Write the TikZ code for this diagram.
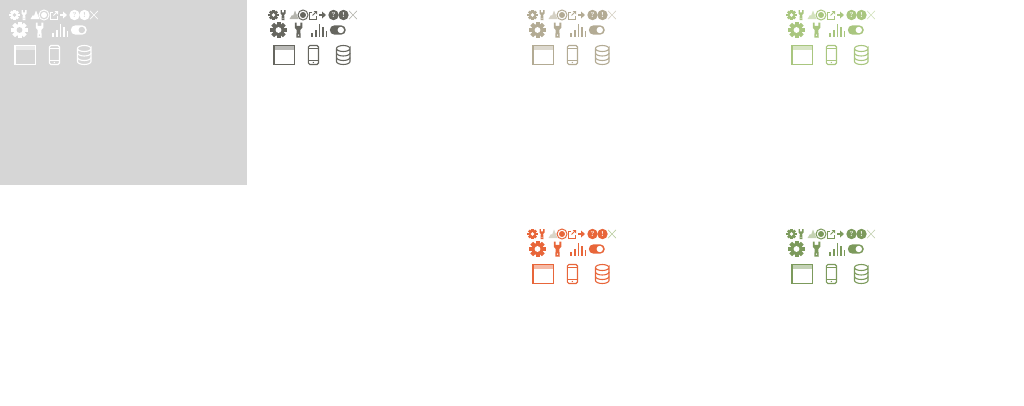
\documentclass[tikz,border=0pt]{standalone}
\usepackage{amsmath}
\usepackage{tikz}

\definecolor{panelgray}{HTML}{D6D6D6}
\definecolor{inkdark}{HTML}{66665F}
\definecolor{softdark}{HTML}{B5B5AE}
\definecolor{inktan}{HTML}{B3AB94}
\definecolor{softtan}{HTML}{D5D1C4}
\definecolor{inklime}{HTML}{A9C67F}
\definecolor{softlime}{HTML}{D3E2BD}
\definecolor{inkred}{HTML}{E8663A}
\definecolor{softred}{HTML}{D9D5C8}
\definecolor{crossred}{HTML}{B9CDA0}
\definecolor{inkolive}{HTML}{7C9A5C}
\definecolor{softolive}{HTML}{C4D2B2}

\tikzset{
    gear/.pic = {
        \foreach \a in {0,45,90,135}
            \fill[rotate=\a, ink] (-.25,-1.02) rectangle (.25,1.02);
        \fill[ink] (0,0) circle (.74);
        \fill[back] (0,0) circle (.36);
    },
    wrench/.pic = {
        \fill[ink] (-.5,-1) -- (-.24,-1) -- (-.24,-.55) -- (.24,-.55) -- (.24,-1) -- (.5,-1)
            -- (.5,-.3) -- (.24,0) -- (.3,1) -- (-.3,1) -- (-.24,0) -- (-.5,-.3) -- cycle;
        \fill[back] (0,.68) circle (.11);
    },
    outline/.style = {draw=ink, line width=1.1pt, fill=none},
}

\newcommand{\iconset}[5]{%
    \begin{scope}[shift={(#1,#2)}]
        \colorlet{ink}{#3}
        \colorlet{soft}{#4}
        \colorlet{cross}{#5}
        % first row
        \pic[scale=5] at (-.5,0) {gear};
        \pic[scale=5] at (9,0) {wrench};
        \fill[soft] (15.5,4) -- (18,0) -- (19,1) -- (21,-4.5) -- (24.5,4) -- cycle;
        \draw[ink, line width=1pt] (29,0) circle (5);
        \fill[ink] (29,0) circle (3);
        \draw[ink, line width=1pt] (38,-3) -- (35.5,-3) -- (35.5,4) -- (42.5,4) -- (42.5,1);
        \draw[ink, line width=1pt] (38.5,.5) -- (41.5,-2.5);
        \fill[ink] (39.5,-4) -- (43,-4) -- (43,-.5) -- cycle;
        \fill[ink] (45,-1) rectangle (49,1);
        \fill[ink] (48,-3.5) -- (52,0) -- (48,3.5) -- cycle;
        \fill[ink] (59.5,0) circle (5.2);
        \node[text=back, font=\bfseries\fontsize{7}{7}\selectfont, inner sep=0pt] (ask) at (59.5,0) {?};
        \fill[ink] (69.5,0) circle (5.2);
        \node[text=back, font=\bfseries\fontsize{7}{7}\selectfont, inner sep=0pt] (warn) at (69.5,0) {!};
        \draw[cross, line width=.6pt] (75,-4.2) -- (83,4.2);
        \draw[cross, line width=.6pt] (75,4.2) -- (83,-4.2);
        % second row
        \pic[scale=8] at (4.5,15) {gear};
        \pic[scale=7.5] at (24.5,15) {wrench};
        \foreach \x/\h in {38.2/4,41.8/7,45.4/13,49/10,52.4/6}
            \draw[ink, line width=1.6pt] (\x,21.5) -- (\x,21.5-\h);
        \fill[ink, rounded corners=4.7pt] (55.8,10.3) rectangle (71.8,19.7);
        \fill[back] (66.8,15) circle (3.2);
        % third row
        \fill[ink!45!back] (0,30.5) rectangle (20.5,34.5);
        \draw[outline] (0,30.5) rectangle (20.5,49.5);
        \draw[outline, rounded corners=1.5pt] (34.3,30.5) rectangle (44.5,49.5);
        \draw[ink, line width=.7pt] (34.3,33.5) -- (44.5,33.5);
        \draw[ink, line width=.7pt] (34.3,45.5) -- (44.5,45.5);
        \fill[ink] (39.4,47.5) circle (.7);
        \draw[outline] (62.5,33.5) -- (62.5,46.5) arc[start angle=180, end angle=0, x radius=6.75, y radius=3]
            -- (76,33.5) arc[start angle=0, end angle=360, x radius=6.75, y radius=3];
        \draw[outline] (62.5,38) arc[start angle=180, end angle=0, x radius=6.75, y radius=3];
        \draw[outline] (62.5,42.5) arc[start angle=180, end angle=0, x radius=6.75, y radius=3];
    \end{scope}
}

\begin{document}
\begin{tikzpicture}[x=1pt, y=-1pt]
    \useasboundingbox (0,0) rectangle (1024,405);
    \fill[panelgray] (0,0) rectangle (246.5,185);

    \colorlet{back}{panelgray}
    \iconset{15}{15}{white}{white}{white}
    \colorlet{back}{white}
    \iconset{274}{15}{inkdark}{softdark}{softdark}
    \iconset{533}{15}{inktan}{softtan}{softtan}
    \iconset{792}{15}{inklime}{softlime}{softlime}
    \iconset{533}{234}{inkred}{softred}{crossred}
    \iconset{792}{234}{inkolive}{softolive}{softolive}
\end{tikzpicture}
\end{document}
